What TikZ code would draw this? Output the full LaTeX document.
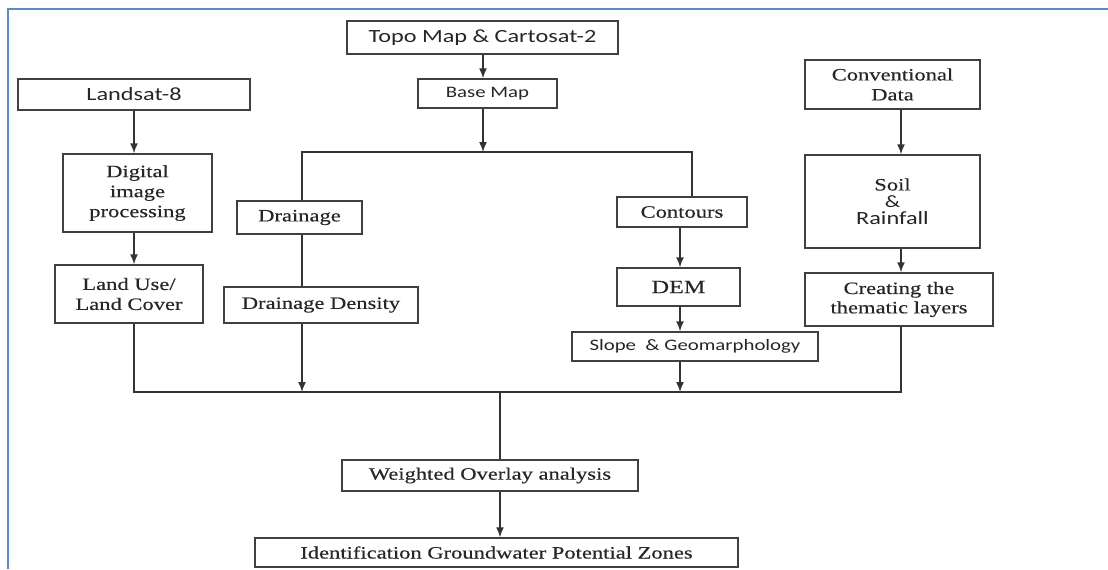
\documentclass[tikz,border=0pt]{standalone}
\usepackage{fontspec}
\usetikzlibrary{arrows.meta}
\newfontfamily\srf[FakeStretch=1.3,FakeBold=0.4]{Liberation Serif}
\newfontfamily\sns[FakeStretch=1.3]{Carlito}
\definecolor{frameblue}{HTML}{5B8BCB}
\tikzset{
  box/.style={draw=black!75, line width=1.1pt, inner sep=0pt, align=center, text=black!85},
  rect/.style n args={4}{minimum width={(#3-#1)*0.75pt}, minimum height={(#4-#2)*0.75pt}, at={({(#1+#3)/2},{(#2+#4)/2})}},
  ser/.style={font=\srf\fontsize{13}{15}\selectfont},
  san/.style={font=\sns\fontsize{14}{16}\selectfont},
  conn/.style={draw=black!80, line width=1.1pt},
  arr/.style={conn, -{Latex[length=7.5pt,width=6pt]}},
}
\begin{document}
\begin{tikzpicture}[x=0.75pt,y=-0.75pt]
\useasboundingbox (0,0) rectangle (1108,569);
\draw[frameblue, line width=1.6pt] (8,569) -- (8,9) -- (1108,9);

% nodes
\node[box,san,rect={347}{21}{618}{54}] (topo) {Topo Map \& Cartosat-2};
\node[box,san,rect={418}{79}{557}{108},font=\sns\fontsize{12}{14}\selectfont] (base) {Base Map};
\node[box,san,rect={18}{79}{250}{110}] (landsat) {Landsat-8};
\node[box,ser,rect={63}{154}{212}{232}] (dip) {Digital\\image\\processing};
\node[box,ser,rect={55}{265}{203}{323}] (lulc) {Land Use/\\Land Cover};
\node[box,ser,rect={237}{201}{362}{234}] (drain) {Drainage};
\node[box,ser,rect={224}{287}{418}{323}] (dd) {Drainage Density};
\node[box,ser,rect={617}{197}{747}{227}] (cont) {Contours};
\node[box,ser,rect={617}{268}{740}{306},font=\srf\fontsize{14}{16}\selectfont] (dem) {DEM};
\node[box,san,rect={572}{332}{818}{361},font=\sns\fontsize{12}{14}\selectfont] (slope) {Slope\ \ \& Geomarphology};
\node[box,ser,rect={805}{60}{980}{109}] (conv) {Conventional\\Data};
\node[box,rect={805}{155}{980}{248},font=\fontsize{13}{12.75}\selectfont] (soil) {{\srf Soil}\\{\sns\&}\\{\sns\fontsize{14}{12.75}\selectfont Rainfall}};
\node[box,ser,rect={805}{273}{993}{326},font=\srf\fontsize{13}{14.5}\selectfont] (create) {Creating the\\thematic layers};
\node[box,ser,rect={342}{460}{638}{491}] (weight) {Weighted Overlay analysis};
\node[box,ser,rect={255}{538}{738}{567}] (ident) {Identification Groundwater Potential Zones};

% junction coordinates
\coordinate (jt) at (483,152);
\coordinate (jl) at (302,152);
\coordinate (jr) at (692,152);
\coordinate (xl) at (134,0);
\coordinate (xc) at (680,0);
\coordinate (xr) at (901,0);
\coordinate (bl) at (134,392);
\coordinate (br) at (901,392);
\coordinate (bm) at (500,392);
\coordinate (bd) at (302,392);
\coordinate (bs) at (680,392);

% connectors
\draw[arr] (jt |- topo.south) -- (jt |- base.north);
\draw[arr] (jt |- base.south) -- (jt);
\draw[conn] (jl |- drain.north) -- (jl) -- (jr) -- (jr |- cont.north);

\draw[arr] (xl |- landsat.south) -- (xl |- dip.north);
\draw[arr] (xl |- dip.south) -- (xl |- lulc.north);
\draw[conn] (xl |- lulc.south) -- (bl) -- (br) -- (xr |- create.south);

\draw[conn] (jl |- drain.south) -- (jl |- dd.north);
\draw[arr] (jl |- dd.south) -- (bd);

\draw[arr] (xc |- cont.south) -- (xc |- dem.north);
\draw[arr] (xc |- dem.south) -- (xc |- slope.north);
\draw[arr] (xc |- slope.south) -- (bs);

\draw[arr] (xr |- conv.south) -- (xr |- soil.north);
\draw[arr] (xr |- soil.south) -- (xr |- create.north);

\draw[conn] (bm) -- (bm |- weight.north);
\draw[arr] (bm |- weight.south) -- (bm |- ident.north);
\end{tikzpicture}
\end{document}
